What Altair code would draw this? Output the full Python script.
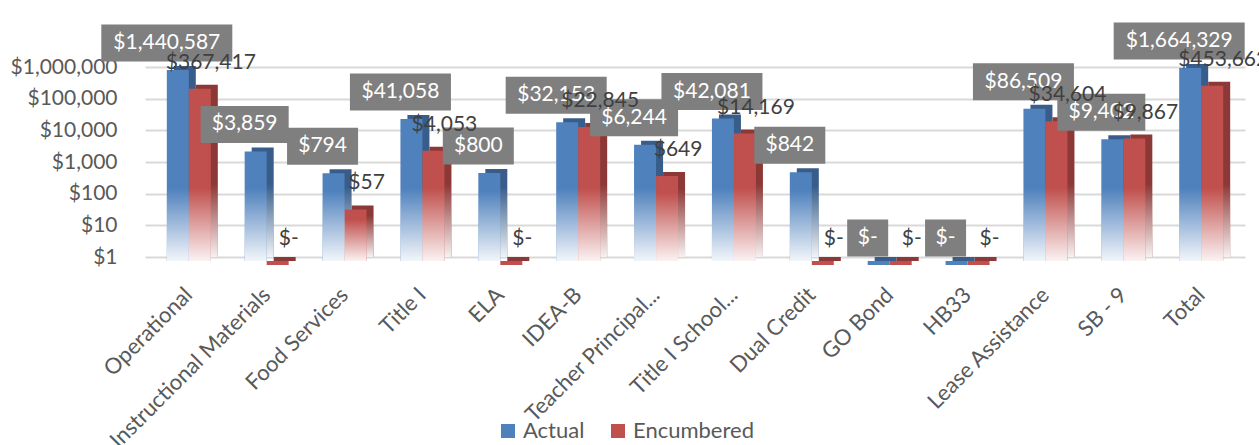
import altair as alt
import pandas as pd

categories = ["Operational", "Instructional Materials", "Food Services", "Title I", "ELA",
              "IDEA-B", "Teacher Principal...", "Title I School...", "Dual Credit",
              "GO Bond", "HB33", "Lease Assistance", "SB - 9", "Total"]
actual = [1440587, 3859, 794, 41058, 800, 32153, 6244, 42081, 842, 0, 0, 86509, 9402, 1664329]
encumbered = [367417, 0, 57, 4053, 0, 22845, 649, 14169, 0, 0, 0, 34604, 9867, 453662]
series_names = ["Actual", "Encumbered"]
y_ticks = [1, 10, 100, 1000, 10000, 100000, 1000000]

FONT = "Lato"


def fmt(v):
    return f"${v:,}" if v else "$-"


def box_path(label):
    w = 19 + 13 * sum(ch.isdigit() or ch == "$" for ch in label) + 4 * label.count(",") + 9 * label.count("-")
    return f"M{-w / 2},-18.5H{w / 2}V18.5H{-w / 2}Z"


rows = []
for c, a, e in zip(categories, actual, encumbered):
    for s, v in zip(series_names, (a, e)):
        rows.append(dict(category=c, series=s, value=v, plot=max(v, 1), base=1,
                         label=fmt(v), box=box_path(fmt(v))))
df = pd.DataFrame(rows)

x_enc = alt.X("category:N", sort=categories,
              scale=alt.Scale(paddingInner=0.435, paddingOuter=0.28),
              axis=alt.Axis(title=None, labelAngle=-45, labelFont=FONT, labelFontSize=22,
                            labelColor="#595959", ticks=False, domain=False, labelPadding=34,
                            labelAlign="right", labelBaseline="middle", labelLimit=400))
xo_enc = alt.XOffset("series:N", scale=alt.Scale(domain=series_names, paddingInner=0, paddingOuter=0))
xo_side = alt.XOffset("series:N", scale=alt.Scale(domain=series_names, paddingInner=0, paddingOuter=0,
                                                  range=[7, 51]))
y_scale = alt.Scale(type="log", domain=[1, 1000000])
y_axis = alt.Axis(title=None, values=y_ticks, format="$,.0f", labelFont=FONT,
                  labelFontSize=21, labelColor="#595959", domain=False, ticks=False,
                  labelPadding=28, gridColor="#D9D9D9", gridWidth=2)
y_enc = alt.Y("plot:Q", scale=y_scale, axis=y_axis)
y2_enc = alt.Y2("base:Q")
fz_enc = alt.Y("fz:Q", scale=y_scale, axis=y_axis)

base = alt.Chart(df)
fade_base = base.transform_filter("datum.plot > 1").transform_calculate(fz="min(datum.plot, 1000)")

fade = alt.Gradient(
    gradient="linear",
    stops=[alt.GradientStop(color="rgba(255,255,255,0)", offset=0),
           alt.GradientStop(color="rgba(255,255,255,0)", offset=0.2),
           alt.GradientStop(color="rgba(255,255,255,0.93)", offset=1)],
    x1=0, x2=0, y1=0, y2=1)

# back (side/top) face of the 3D bars
side = base.mark_bar(yOffset=4, y2Offset=0).encode(
    x=x_enc, xOffset=xo_side, y=y_enc, y2=y2_enc,
    fill=alt.Fill("series:N", scale=alt.Scale(domain=series_names, range=["#385D8A", "#8C3836"]), legend=None),
)
side_fade = fade_base.mark_bar(yOffset=4, y2Offset=0, fill=fade).encode(
    x=x_enc, xOffset=xo_side, y=fz_enc, y2=y2_enc,
)
front = base.mark_bar(yOffset=8, y2Offset=4).encode(
    x=x_enc, xOffset=xo_enc, y=y_enc, y2=y2_enc,
    color=alt.Color("series:N", scale=alt.Scale(domain=series_names, range=["#4F81BD", "#C0504D"]),
                    legend=alt.Legend(title=None, orient="none", legendX=352, legendY=353,
                                      direction="horizontal", symbolType="square", symbolSize=196,
                                      labelFont=FONT, labelFontSize=22, labelColor="#595959",
                                      columnPadding=22, symbolStrokeWidth=0)),
)
front_fade = fade_base.mark_bar(yOffset=8, y2Offset=4, fill=fade).encode(
    x=x_enc, xOffset=xo_enc, y=fz_enc, y2=y2_enc,
)

actual_df = base.transform_filter("datum.series == 'Actual'")
boxes = actual_df.mark_point(filled=True, opacity=1, size=4, yOffset=-19, color="#7F7F7F", strokeWidth=0).encode(
    x=x_enc, xOffset=xo_enc, y=y_enc,
    shape=alt.Shape("box:N", scale=None, legend=None),
)
box_text = actual_df.mark_text(dy=-19, font=FONT, fontSize=21, color="white", baseline="middle").encode(
    x=x_enc, xOffset=xo_enc, y=y_enc, text="label:N",
)
enc_text = base.transform_filter("datum.series == 'Encumbered'").mark_text(
    dy=-18, font=FONT, fontSize=21, color="#404040", baseline="middle").encode(
    x=x_enc, xOffset=xo_enc, y=y_enc, text="label:N",
)

chart = alt.layer(side, side_fade, front, front_fade, boxes, box_text, enc_text).resolve_scale(
    fill="independent", xOffset="independent"
).properties(
    width=1100, height=190,
    autosize=alt.AutoSizeParams(type="none"),
    padding={"left": 145, "top": 67, "right": 14, "bottom": 188},
    background="white",
).configure_view(stroke=None)

chart.save("out.html", embed_options={"renderer": "svg", "actions": False})
